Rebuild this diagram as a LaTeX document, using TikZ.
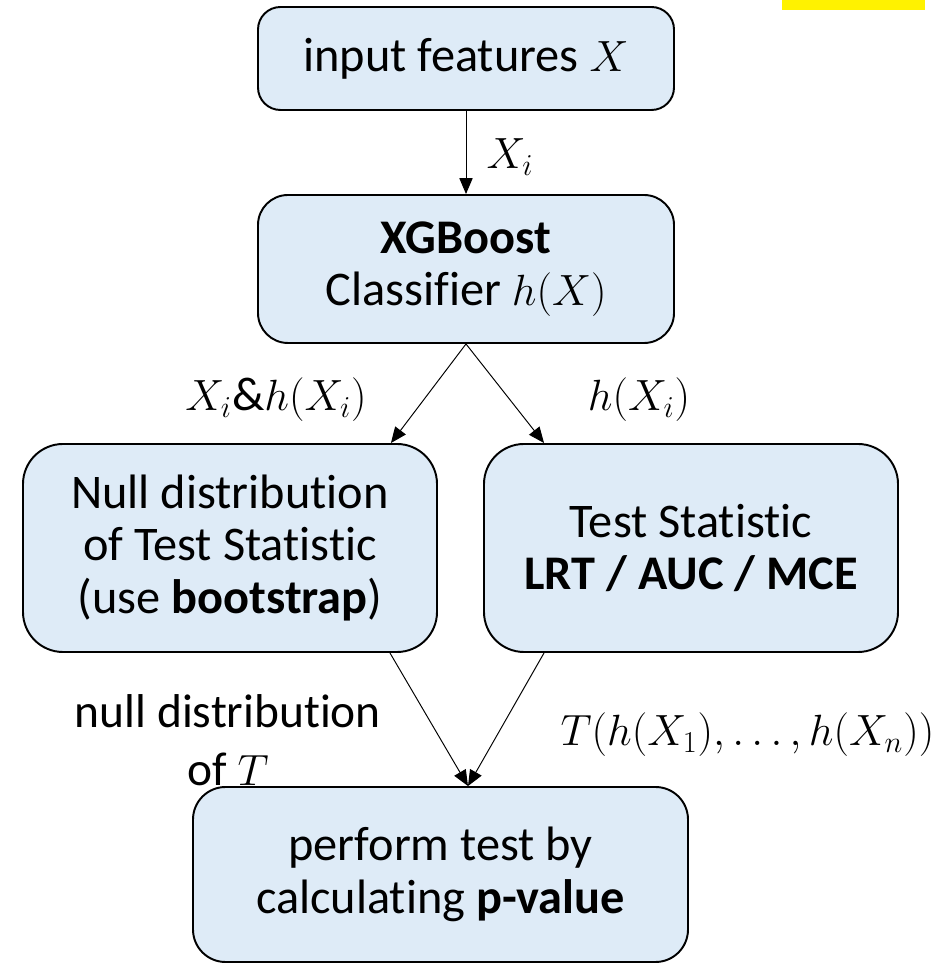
\documentclass[tikz,border=0pt]{standalone}
\usepackage{fontspec}
\setmainfont{Carlito}[Ligatures=NoCommon]
\usetikzlibrary{arrows.meta}
\definecolor{boxblue}{HTML}{DEEBF7}
\tikzset{
  stage/.style={draw, line width=1.1pt, fill=boxblue, align=center, inner sep=0pt,
    font=\fontsize{27.5}{30}\selectfont},
  flow/.style={-{Triangle[length=9pt,width=7.5pt]}, line width=0.55pt},
  lbl/.style={align=center, font=\fontsize{27}{33}\selectfont}
}
\begin{document}
\begin{tikzpicture}
            \useasboundingbox (0,0) rectangle (18.9,19.28);

            % Draw the corner tag
            \fill[yellow] (15.64,19.08) rectangle (18.5,19.28);

            % Draw the five stages
            \node[stage, rounded corners=0.45cm, minimum width=8.32cm, minimum height=2.06cm]
                (input) at (9.32,18.11) {input features $X$};
            \node[stage, rounded corners=0.6cm, minimum width=8.32cm, minimum height=2.96cm]
                (xgb) at (9.32,13.9) {\textbf{XGBoost}\\Classifier $h(X)$};
            \node[stage, rounded corners=0.8cm, minimum width=8.28cm, minimum height=4.16cm]
                (null) at (4.6,8.32) {Null distribution\\of Test Statistic\\(use \textbf{bootstrap})};
            \node[stage, rounded corners=0.8cm, minimum width=8.28cm, minimum height=4.16cm]
                (stat) at (13.82,8.32) {Test Statistic\\\textbf{LRT / AUC / MCE}};
            \node[stage, rounded corners=0.65cm, minimum width=9.9cm, minimum height=3.5cm]
                (pval) at (8.81,1.79) {perform test by\\calculating \textbf{p-value}};

            % Ends of the slanted connectors
            \coordinate (nulltop) at ([xshift=-0.94cm]null.north east);
            \coordinate (stattop) at ([xshift=1.22cm]stat.north west);
            \coordinate (nullbot) at ([xshift=-0.96cm]null.south east);
            \coordinate (statbot) at ([xshift=1.22cm]stat.south west);
            \coordinate (pvaltop) at ([xshift=0.55cm]pval.north);

            % Draw the connectors
            \draw[flow] (input.south) -- (xgb.north);
            \draw[flow] (xgb.south) -- (nulltop);
            \draw[flow] (xgb.south) -- (stattop);
            \draw[flow] (nullbot) -- (pvaltop);
            \draw[flow] (statbot) -- (pvaltop);

            % Labels on the connectors
            \node[lbl] (lxi) at (10.2,16.14) {$X_i$};
            \node[lbl] (lxh) at (5.52,11.28) {$X_i\&h(X_i)$};
            \node[lbl] (lh) at (12.78,11.28) {$h(X_i)$};
            \node[lbl] (lnull) at (4.56,4.48) {null distribution\\of $T$};
            \node[lbl] (lt) at (14.95,4.58) {$T(h(X_1),\ldots,h(X_n))$};

        \end{tikzpicture}
\end{document}
